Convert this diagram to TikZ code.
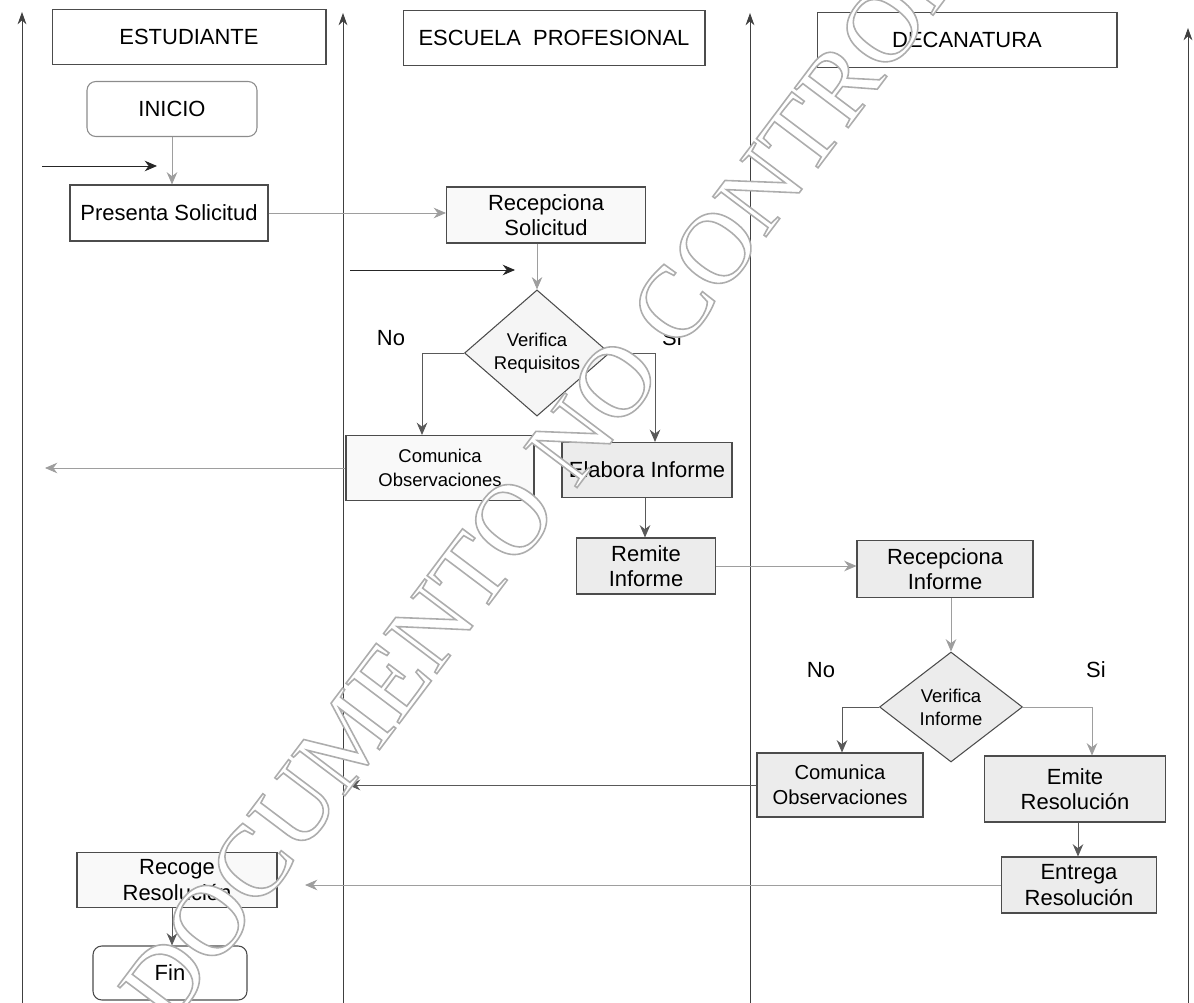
\documentclass[tikz,border=0pt]{standalone}
\usepackage{fontspec}
\setmainfont{Liberation Sans}
\newfontfamily\stampfont{Liberation Serif}
\usetikzlibrary{positioning,shapes.geometric,arrows.meta}

% hollow letters: fill in the text colour, outline in grey
\newcommand{\hollowtext}[1]{\special{pdf:literal direct 2 Tr 0.9 w 0.68 G}#1\special{pdf:literal direct 0 Tr}}

\begin{document}
\begin{tikzpicture}[x=0.02cm,y=-0.02cm,font=\fontsize{12.5}{14.5}\selectfont,
  lane/.style={draw=black!75,line width=0.5pt,-{Stealth[length=7pt,width=5pt]}},
  lanehead/.style={draw=black!70,line width=0.6pt,minimum height=1.1cm,minimum width=5.48cm},
  stepbox/.style={draw=black!70,line width=0.6pt,fill=gray!5,align=center,minimum height=1.12cm,inner sep=2pt},
  darkbox/.style={stepbox,fill=gray!15},
  endbox/.style={draw=black!45,line width=0.6pt,rounded corners=5pt,minimum height=1.1cm},
  decision/.style={diamond,draw=black!70,line width=0.6pt,fill=gray!8,align=center,inner sep=0pt,font=\fontsize{10.5}{13}\selectfont},
  flow/.style={draw=black!65,line width=0.5pt,-{Stealth[length=7pt,width=6pt]}},
  faint/.style={flow,draw=black!38}]
\useasboundingbox (0,0) rectangle (1194,1003);

% swimlane borders
\foreach \x/\t in {22/12,343/13,750/13,1188/28} {\draw[lane] (\x,1003) -- (\x,\t);}

% lane titles
\node[lanehead] (hEst) at (189,37) {ESTUDIANTE};
\node[lanehead,minimum width=6.04cm] (hEsc) at (554,38) {ESCUELA~~PROFESIONAL};
\node[lanehead,minimum width=6.0cm] (hDec) at (967,40) {DECANATURA};

% estudiante
\node[endbox,minimum width=3.4cm] (inicio) at (172,109) {INICIO};
\node[stepbox,fill=white,minimum width=3.96cm] (presenta) at (169,213) {Presenta Solicitud};
\node[stepbox,minimum width=4.0cm,minimum height=1.1cm] (recoge) at (177,880) {Recoge\\Resolución};
\node[endbox,draw=black!70,minimum width=3.08cm,minimum height=1.08cm] (fin) at (170,973) {Fin};

% escuela profesional
\node[stepbox,minimum width=3.98cm] (recepSol) at (546,215) {Recepciona\\Solicitud};
\node[decision,minimum width=2.9cm,minimum height=2.16cm] (verReq) at (537,353) {Verifica\\Requisitos};
\node[stepbox,minimum width=3.76cm,minimum height=1.3cm,font=\fontsize{10.5}{13.5}\selectfont] (comEsc) at (440,468) {Comunica\\Observaciones};
\node[darkbox,minimum width=3.4cm,minimum height=1.1cm] (elabora) at (647,470) {Elabora Informe};
\node[darkbox,minimum width=2.78cm] (remite) at (646,566) {Remite\\Informe};
\node (noEsc) at (391,338) {No};
\node (siEsc) at (672,338) {Si};

% decanatura
\node[darkbox,minimum width=3.52cm,minimum height=1.14cm] (recepInf) at (945,569) {Recepciona\\Informe};
\node[decision,fill=gray!15,minimum width=2.86cm,minimum height=2.2cm] (verInf) at (951,707) {Verifica\\Informe};
\node[darkbox,minimum width=3.32cm,minimum height=1.28cm,font=\fontsize{11.5}{14}\selectfont] (comDec) at (840,785) {Comunica\\Observaciones};
\node[darkbox,minimum width=3.62cm,minimum height=1.32cm] (emite) at (1075,789) {Emite\\Resolución};
\node[darkbox,minimum width=3.1cm] (entrega) at (1079,885) {Entrega\\Resolución};
\node (noDec) at (821,670) {No};
\node (siDec) at (1096,670) {Si};

% loose ends
\coordinate (inEstA) at (42,166); \coordinate (inEstB) at (157,166);
\coordinate (inEscA) at (350,270); \coordinate (inEscB) at (515,270);
\coordinate (toEst) at (45,468);
\coordinate (toEscA) at (348,785);
\coordinate (toEscB) at (305,885);

% flow
\draw[flow,draw=black!85] (inEstA) -- (inEstB);
\draw[flow,draw=black!85] (inEscA) -- (inEscB);
\draw[faint] (inicio.south) -- (inicio.south |- presenta.north);
\draw[faint] (presenta.east) -- (presenta.east -| recepSol.west);
\draw[faint] (verReq.north |- recepSol.south) -- (verReq.north);
\draw[flow] (verReq.west) -| ([xshift=-0.36cm]comEsc.north);
\draw[flow] (verReq.east) -| ([xshift=0.16cm]elabora.north);
\draw[faint] (comEsc.west) -- (toEst);
\draw[flow] ([xshift=-0.04cm]elabora.south) -- ([xshift=-0.04cm]elabora.south |- remite.north);
\draw[faint] (remite.east) -- (remite.east -| recepInf.west);
\draw[faint] (verInf.north |- recepInf.south) -- (verInf.north);
\draw[flow] (verInf.west) -| ([xshift=0.04cm]comDec.north);
\draw[faint] (verInf.east) -| ([xshift=0.34cm]emite.north);
\draw[flow] ([xshift=0.06cm]emite.south) -- ([xshift=0.06cm]emite.south |- entrega.north);
\draw[flow] (comDec.west) -- (toEscA);
\draw[faint] (entrega.west) -- (toEscB);
\draw[flow] ([xshift=-0.1cm]recoge.south) -- ([xshift=-0.1cm]recoge.south |- fin.north);

% stamp over the sheet
\begin{scope}
\clip (0,0) rectangle (1194,1003);
\node[text=white,rotate=53,font=\stampfont\fontsize{58}{58}\selectfont] (sello) at (609,390) {\hollowtext{DOCUMENTO NO CONTROLADO}};
\end{scope}
\end{tikzpicture}
\end{document}
